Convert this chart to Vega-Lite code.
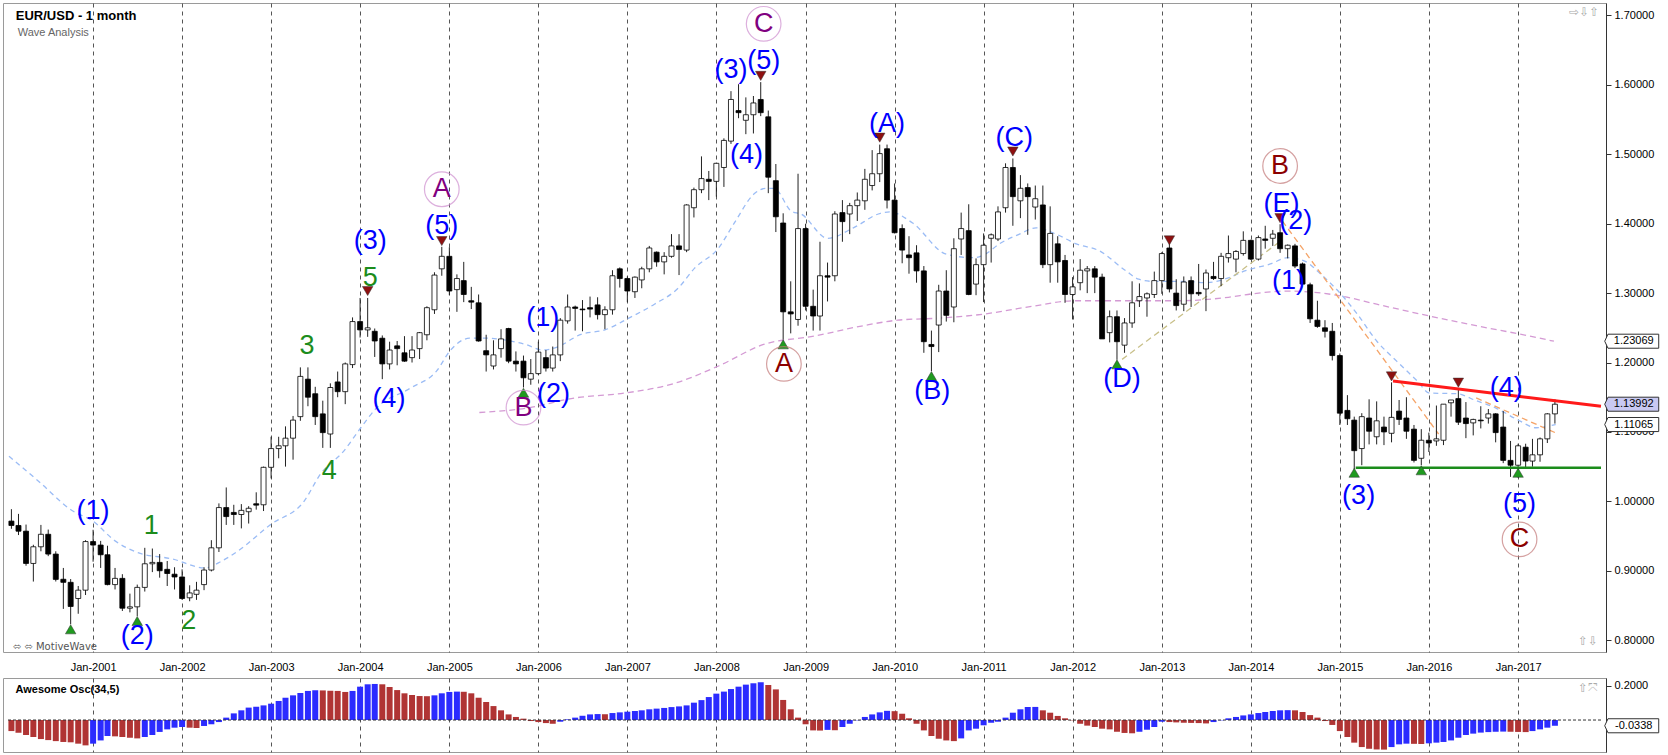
{
"$schema":"https://vega.github.io/schema/vega-lite/v6.json",
"padding":{"left":2,"top":2,"right":0,"bottom":0},
"background":"#ffffff",
"config":{"view":{"stroke":"#9a9a9a"},"font":"Liberation Sans","axis":{"labelFont":"Liberation Sans"}},
"spacing":4,
"resolve":{"scale":{"color":"independent","fill":"independent","stroke":"independent","shape":"independent"}},
"datasets":{
"k":[
{"d":"2000-02-01","o":0.9715,"h":0.9887,"l":0.9604,"c":0.9652,"ao":-0.065,"t":"dn"},
{"d":"2000-03-01","o":0.9652,"h":0.9819,"l":0.9514,"c":0.9570,"ao":-0.075,"t":"dn"},
{"d":"2000-04-01","o":0.9570,"h":0.9665,"l":0.9072,"c":0.9105,"ao":-0.088,"t":"dn"},
{"d":"2000-05-01","o":0.9105,"h":0.9374,"l":0.8844,"c":0.9345,"ao":-0.100,"t":"dn"},
{"d":"2000-06-01","o":0.9345,"h":0.9660,"l":0.9280,"c":0.9525,"ao":-0.112,"t":"dn"},
{"d":"2000-07-01","o":0.9525,"h":0.9593,"l":0.9210,"c":0.9240,"ao":-0.118,"t":"dn"},
{"d":"2000-08-01","o":0.9240,"h":0.9280,"l":0.8845,"c":0.8875,"ao":-0.124,"t":"dn"},
{"d":"2000-09-01","o":0.8877,"h":0.9040,"l":0.8450,"c":0.8833,"ao":-0.129,"t":"dn"},
{"d":"2000-10-01","o":0.8833,"h":0.8880,"l":0.8228,"c":0.8485,"ao":-0.131,"t":"dn"},
{"d":"2000-11-01","o":0.8600,"h":0.8780,"l":0.8380,"c":0.8720,"ao":-0.139,"t":"dn"},
{"d":"2000-12-01","o":0.8720,"h":0.9440,"l":0.8650,"c":0.9420,"ao":-0.149,"t":"dn"},
{"d":"2001-01-01","o":0.9420,"h":0.9590,"l":0.9130,"c":0.9370,"ao":-0.139,"t":"up"},
{"d":"2001-02-01","o":0.9370,"h":0.9430,"l":0.9040,"c":0.9230,"ao":-0.120,"t":"up"},
{"d":"2001-03-01","o":0.9230,"h":0.9360,"l":0.8790,"c":0.8800,"ao":-0.094,"t":"up"},
{"d":"2001-04-01","o":0.8800,"h":0.9040,"l":0.8730,"c":0.8890,"ao":-0.096,"t":"dn"},
{"d":"2001-05-01","o":0.8890,"h":0.8950,"l":0.8420,"c":0.8460,"ao":-0.100,"t":"dn"},
{"d":"2001-06-01","o":0.8460,"h":0.8670,"l":0.8400,"c":0.8480,"ao":-0.104,"t":"dn"},
{"d":"2001-07-01","o":0.8480,"h":0.8800,"l":0.8344,"c":0.8760,"ao":-0.108,"t":"dn"},
{"d":"2001-08-01","o":0.8760,"h":0.9330,"l":0.8700,"c":0.9100,"ao":-0.100,"t":"up"},
{"d":"2001-09-01","o":0.9100,"h":0.9320,"l":0.8980,"c":0.9120,"ao":-0.088,"t":"up"},
{"d":"2001-10-01","o":0.9120,"h":0.9240,"l":0.8900,"c":0.9000,"ao":-0.070,"t":"up"},
{"d":"2001-11-01","o":0.9020,"h":0.9140,"l":0.8780,"c":0.8960,"ao":-0.055,"t":"up"},
{"d":"2001-12-01","o":0.8950,"h":0.9050,"l":0.8730,"c":0.8910,"ao":-0.045,"t":"up"},
{"d":"2002-01-01","o":0.8910,"h":0.9020,"l":0.8580,"c":0.8600,"ao":-0.041,"t":"up"},
{"d":"2002-02-01","o":0.8610,"h":0.8790,"l":0.8560,"c":0.8680,"ao":-0.045,"t":"dn"},
{"d":"2002-03-01","o":0.8660,"h":0.8840,"l":0.8580,"c":0.8720,"ao":-0.047,"t":"dn"},
{"d":"2002-04-01","o":0.8800,"h":0.9050,"l":0.8720,"c":0.9010,"ao":-0.035,"t":"up"},
{"d":"2002-05-01","o":0.9010,"h":0.9440,"l":0.8990,"c":0.9330,"ao":-0.025,"t":"up"},
{"d":"2002-06-01","o":0.9330,"h":0.9970,"l":0.9270,"c":0.9910,"ao":-0.012,"t":"up"},
{"d":"2002-07-01","o":0.9910,"h":1.0200,"l":0.9660,"c":0.9780,"ao":0.014,"t":"up"},
{"d":"2002-08-01","o":0.9840,"h":0.9950,"l":0.9660,"c":0.9810,"ao":0.039,"t":"up"},
{"d":"2002-09-01","o":0.9810,"h":0.9960,"l":0.9610,"c":0.9870,"ao":0.057,"t":"up"},
{"d":"2002-10-01","o":0.9850,"h":0.9930,"l":0.9680,"c":0.9900,"ao":0.073,"t":"up"},
{"d":"2002-11-01","o":0.9965,"h":1.0130,"l":0.9880,"c":0.9945,"ao":0.078,"t":"up"},
{"d":"2002-12-01","o":0.9950,"h":1.0500,"l":0.9860,"c":1.0490,"ao":0.086,"t":"up"},
{"d":"2003-01-01","o":1.0490,"h":1.0930,"l":1.0330,"c":1.0760,"ao":0.096,"t":"up"},
{"d":"2003-02-01","o":1.0760,"h":1.0930,"l":1.0620,"c":1.0800,"ao":0.112,"t":"up"},
{"d":"2003-03-01","o":1.0800,"h":1.1080,"l":1.0500,"c":1.0910,"ao":0.131,"t":"up"},
{"d":"2003-04-01","o":1.0910,"h":1.1230,"l":1.0600,"c":1.1170,"ao":0.145,"t":"up"},
{"d":"2003-05-01","o":1.1220,"h":1.1930,"l":1.1160,"c":1.1800,"ao":0.159,"t":"up"},
{"d":"2003-06-01","o":1.1760,"h":1.1930,"l":1.1370,"c":1.1500,"ao":0.171,"t":"up"},
{"d":"2003-07-01","o":1.1550,"h":1.1650,"l":1.1100,"c":1.1220,"ao":0.175,"t":"up"},
{"d":"2003-08-01","o":1.1260,"h":1.1450,"l":1.0770,"c":1.0990,"ao":0.174,"t":"dn"},
{"d":"2003-09-01","o":1.0970,"h":1.1700,"l":1.0770,"c":1.1640,"ao":0.172,"t":"dn"},
{"d":"2003-10-01","o":1.1720,"h":1.1870,"l":1.1500,"c":1.1580,"ao":0.171,"t":"dn"},
{"d":"2003-11-01","o":1.1580,"h":1.2000,"l":1.1400,"c":1.1980,"ao":0.165,"t":"dn"},
{"d":"2003-12-01","o":1.1970,"h":1.2650,"l":1.1920,"c":1.2590,"ao":0.171,"t":"up"},
{"d":"2004-01-01","o":1.2590,"h":1.2930,"l":1.2360,"c":1.2470,"ao":0.196,"t":"up"},
{"d":"2004-02-01","o":1.2470,"h":1.2930,"l":1.2370,"c":1.2500,"ao":0.210,"t":"up"},
{"d":"2004-03-01","o":1.2450,"h":1.2490,"l":1.2080,"c":1.2310,"ao":0.212,"t":"up"},
{"d":"2004-04-01","o":1.2350,"h":1.2390,"l":1.1760,"c":1.1980,"ao":0.210,"t":"dn"},
{"d":"2004-05-01","o":1.1980,"h":1.2300,"l":1.1900,"c":1.2180,"ao":0.194,"t":"dn"},
{"d":"2004-06-01","o":1.2240,"h":1.2310,"l":1.1960,"c":1.2200,"ao":0.176,"t":"dn"},
{"d":"2004-07-01","o":1.2140,"h":1.2380,"l":1.2010,"c":1.2020,"ao":0.157,"t":"dn"},
{"d":"2004-08-01","o":1.2070,"h":1.2380,"l":1.2000,"c":1.2180,"ao":0.147,"t":"dn"},
{"d":"2004-09-01","o":1.2200,"h":1.2440,"l":1.2050,"c":1.2430,"ao":0.141,"t":"dn"},
{"d":"2004-10-01","o":1.2400,"h":1.2810,"l":1.2320,"c":1.2790,"ao":0.140,"t":"dn"},
{"d":"2004-11-01","o":1.2760,"h":1.3300,"l":1.2700,"c":1.3260,"ao":0.145,"t":"up"},
{"d":"2004-12-01","o":1.3350,"h":1.3667,"l":1.3250,"c":1.3530,"ao":0.157,"t":"up"},
{"d":"2005-01-01","o":1.3530,"h":1.3660,"l":1.2970,"c":1.3030,"ao":0.165,"t":"up"},
{"d":"2005-02-01","o":1.3050,"h":1.3270,"l":1.2730,"c":1.3210,"ao":0.167,"t":"up"},
{"d":"2005-03-01","o":1.3180,"h":1.3450,"l":1.2870,"c":1.2980,"ao":0.166,"t":"dn"},
{"d":"2005-04-01","o":1.2890,"h":1.3090,"l":1.2770,"c":1.2870,"ao":0.157,"t":"dn"},
{"d":"2005-05-01","o":1.2860,"h":1.2980,"l":1.2300,"c":1.2310,"ao":0.131,"t":"dn"},
{"d":"2005-06-01","o":1.2170,"h":1.2400,"l":1.1870,"c":1.2110,"ao":0.106,"t":"dn"},
{"d":"2005-07-01","o":1.1950,"h":1.2320,"l":1.1900,"c":1.2110,"ao":0.082,"t":"dn"},
{"d":"2005-08-01","o":1.2200,"h":1.2480,"l":1.2070,"c":1.2340,"ao":0.057,"t":"dn"},
{"d":"2005-09-01","o":1.2490,"h":1.2500,"l":1.1990,"c":1.2020,"ao":0.033,"t":"dn"},
{"d":"2005-10-01","o":1.2020,"h":1.2160,"l":1.1870,"c":1.1980,"ao":0.018,"t":"dn"},
{"d":"2005-11-01","o":1.2020,"h":1.2100,"l":1.1640,"c":1.1780,"ao":0.008,"t":"dn"},
{"d":"2005-12-01","o":1.1760,"h":1.2050,"l":1.1680,"c":1.1840,"ao":-0.006,"t":"dn"},
{"d":"2006-01-01","o":1.1840,"h":1.2300,"l":1.1820,"c":1.2150,"ao":-0.012,"t":"dn"},
{"d":"2006-02-01","o":1.2070,"h":1.2180,"l":1.1870,"c":1.1920,"ao":-0.018,"t":"dn"},
{"d":"2006-03-01","o":1.1920,"h":1.2230,"l":1.1870,"c":1.2110,"ao":-0.022,"t":"dn"},
{"d":"2006-04-01","o":1.2110,"h":1.2640,"l":1.2020,"c":1.2610,"ao":-0.010,"t":"up"},
{"d":"2006-05-01","o":1.2600,"h":1.2980,"l":1.2560,"c":1.2800,"ao":0.004,"t":"up"},
{"d":"2006-06-01","o":1.2800,"h":1.2820,"l":1.2460,"c":1.2780,"ao":0.014,"t":"up"},
{"d":"2006-07-01","o":1.2770,"h":1.2900,"l":1.2450,"c":1.2760,"ao":0.025,"t":"up"},
{"d":"2006-08-01","o":1.2790,"h":1.2950,"l":1.2650,"c":1.2770,"ao":0.033,"t":"up"},
{"d":"2006-09-01","o":1.2830,"h":1.2940,"l":1.2620,"c":1.2690,"ao":0.035,"t":"up"},
{"d":"2006-10-01","o":1.2690,"h":1.2810,"l":1.2480,"c":1.2760,"ao":0.034,"t":"dn"},
{"d":"2006-11-01","o":1.2760,"h":1.3330,"l":1.2690,"c":1.3250,"ao":0.041,"t":"up"},
{"d":"2006-12-01","o":1.3350,"h":1.3370,"l":1.3080,"c":1.3210,"ao":0.045,"t":"up"},
{"d":"2007-01-01","o":1.3210,"h":1.3240,"l":1.2870,"c":1.3030,"ao":0.049,"t":"up"},
{"d":"2007-02-01","o":1.3020,"h":1.3240,"l":1.2930,"c":1.3230,"ao":0.053,"t":"up"},
{"d":"2007-03-01","o":1.3190,"h":1.3380,"l":1.3070,"c":1.3350,"ao":0.057,"t":"up"},
{"d":"2007-04-01","o":1.3350,"h":1.3680,"l":1.3300,"c":1.3650,"ao":0.063,"t":"up"},
{"d":"2007-05-01","o":1.3590,"h":1.3600,"l":1.3380,"c":1.3450,"ao":0.067,"t":"up"},
{"d":"2007-06-01","o":1.3450,"h":1.3590,"l":1.3270,"c":1.3530,"ao":0.071,"t":"up"},
{"d":"2007-07-01","o":1.3530,"h":1.3850,"l":1.3510,"c":1.3680,"ao":0.076,"t":"up"},
{"d":"2007-08-01","o":1.3680,"h":1.3850,"l":1.3260,"c":1.3630,"ao":0.080,"t":"up"},
{"d":"2007-09-01","o":1.3620,"h":1.4280,"l":1.3590,"c":1.4270,"ao":0.086,"t":"up"},
{"d":"2007-10-01","o":1.4230,"h":1.4520,"l":1.4090,"c":1.4490,"ao":0.102,"t":"up"},
{"d":"2007-11-01","o":1.4490,"h":1.4970,"l":1.4440,"c":1.4650,"ao":0.117,"t":"up"},
{"d":"2007-12-01","o":1.4640,"h":1.4760,"l":1.4340,"c":1.4610,"ao":0.135,"t":"up"},
{"d":"2008-01-01","o":1.4610,"h":1.4880,"l":1.4390,"c":1.4870,"ao":0.155,"t":"up"},
{"d":"2008-02-01","o":1.4810,"h":1.5230,"l":1.4530,"c":1.5200,"ao":0.167,"t":"up"},
{"d":"2008-03-01","o":1.5190,"h":1.5910,"l":1.5150,"c":1.5790,"ao":0.182,"t":"up"},
{"d":"2008-04-01","o":1.5630,"h":1.6010,"l":1.5520,"c":1.5600,"ao":0.196,"t":"up"},
{"d":"2008-05-01","o":1.5490,"h":1.5820,"l":1.5290,"c":1.5570,"ao":0.208,"t":"up"},
{"d":"2008-06-01","o":1.5570,"h":1.5840,"l":1.5300,"c":1.5740,"ao":0.216,"t":"up"},
{"d":"2008-07-01","o":1.5790,"h":1.6040,"l":1.5550,"c":1.5600,"ao":0.222,"t":"up"},
{"d":"2008-08-01","o":1.5540,"h":1.5630,"l":1.4440,"c":1.4670,"ao":0.206,"t":"dn"},
{"d":"2008-09-01","o":1.4620,"h":1.4860,"l":1.3880,"c":1.4100,"ao":0.180,"t":"dn"},
{"d":"2008-10-01","o":1.4010,"h":1.4150,"l":1.2330,"c":1.2730,"ao":0.118,"t":"dn"},
{"d":"2008-11-01","o":1.2730,"h":1.3170,"l":1.2420,"c":1.2700,"ao":0.063,"t":"dn"},
{"d":"2008-12-01","o":1.2620,"h":1.4720,"l":1.2530,"c":1.3930,"ao":0.014,"t":"dn"},
{"d":"2009-01-01","o":1.3930,"h":1.4000,"l":1.2750,"c":1.2810,"ao":-0.025,"t":"dn"},
{"d":"2009-02-01","o":1.2810,"h":1.3050,"l":1.2460,"c":1.2670,"ao":-0.061,"t":"dn"},
{"d":"2009-03-01","o":1.2670,"h":1.3740,"l":1.2460,"c":1.3250,"ao":-0.062,"t":"dn"},
{"d":"2009-04-01","o":1.3250,"h":1.3440,"l":1.2880,"c":1.3230,"ao":-0.058,"t":"up"},
{"d":"2009-05-01","o":1.3250,"h":1.4180,"l":1.3170,"c":1.4140,"ao":-0.060,"t":"dn"},
{"d":"2009-06-01","o":1.4160,"h":1.4340,"l":1.3740,"c":1.4030,"ao":-0.041,"t":"up"},
{"d":"2009-07-01","o":1.4140,"h":1.4300,"l":1.3850,"c":1.4260,"ao":-0.022,"t":"up"},
{"d":"2009-08-01","o":1.4260,"h":1.4450,"l":1.4040,"c":1.4340,"ao":-0.002,"t":"up"},
{"d":"2009-09-01","o":1.4330,"h":1.4790,"l":1.4200,"c":1.4640,"ao":0.018,"t":"up"},
{"d":"2009-10-01","o":1.4550,"h":1.5060,"l":1.4480,"c":1.4720,"ao":0.033,"t":"up"},
{"d":"2009-11-01","o":1.4720,"h":1.5140,"l":1.4600,"c":1.5010,"ao":0.045,"t":"up"},
{"d":"2009-12-01","o":1.5080,"h":1.5140,"l":1.4220,"c":1.4340,"ao":0.054,"t":"up"},
{"d":"2010-01-01","o":1.4340,"h":1.4580,"l":1.3860,"c":1.3870,"ao":0.052,"t":"dn"},
{"d":"2010-02-01","o":1.3930,"h":1.3990,"l":1.3430,"c":1.3620,"ao":0.037,"t":"dn"},
{"d":"2010-03-01","o":1.3550,"h":1.3820,"l":1.3280,"c":1.3510,"ao":0.010,"t":"dn"},
{"d":"2010-04-01","o":1.3580,"h":1.3690,"l":1.3150,"c":1.3320,"ao":-0.022,"t":"dn"},
{"d":"2010-05-01","o":1.3320,"h":1.3390,"l":1.2140,"c":1.2300,"ao":-0.061,"t":"dn"},
{"d":"2010-06-01","o":1.2260,"h":1.2460,"l":1.1876,"c":1.2230,"ao":-0.094,"t":"dn"},
{"d":"2010-07-01","o":1.2540,"h":1.3120,"l":1.2150,"c":1.3030,"ao":-0.110,"t":"dn"},
{"d":"2010-08-01","o":1.3030,"h":1.3330,"l":1.2590,"c":1.2680,"ao":-0.120,"t":"dn"},
{"d":"2010-09-01","o":1.2800,"h":1.3790,"l":1.2580,"c":1.3640,"ao":-0.124,"t":"dn"},
{"d":"2010-10-01","o":1.3780,"h":1.4160,"l":1.3550,"c":1.3930,"ao":-0.108,"t":"up"},
{"d":"2010-11-01","o":1.3900,"h":1.4280,"l":1.2970,"c":1.2980,"ao":-0.061,"t":"up"},
{"d":"2010-12-01","o":1.3130,"h":1.3500,"l":1.2970,"c":1.3410,"ao":-0.051,"t":"up"},
{"d":"2011-01-01","o":1.3410,"h":1.3860,"l":1.2870,"c":1.3690,"ao":-0.031,"t":"up"},
{"d":"2011-02-01","o":1.3790,"h":1.3860,"l":1.3440,"c":1.3840,"ao":-0.016,"t":"up"},
{"d":"2011-03-01","o":1.3780,"h":1.4250,"l":1.3750,"c":1.4170,"ao":-0.010,"t":"up"},
{"d":"2011-04-01","o":1.4230,"h":1.4870,"l":1.4160,"c":1.4810,"ao":0.014,"t":"up"},
{"d":"2011-05-01","o":1.4810,"h":1.4940,"l":1.3970,"c":1.4390,"ao":0.043,"t":"up"},
{"d":"2011-06-01","o":1.4330,"h":1.4700,"l":1.4080,"c":1.4510,"ao":0.063,"t":"up"},
{"d":"2011-07-01","o":1.4520,"h":1.4580,"l":1.3840,"c":1.4390,"ao":0.076,"t":"up"},
{"d":"2011-08-01","o":1.4240,"h":1.4550,"l":1.4060,"c":1.4360,"ao":0.077,"t":"up"},
{"d":"2011-09-01","o":1.4270,"h":1.4550,"l":1.3360,"c":1.3410,"ao":0.057,"t":"dn"},
{"d":"2011-10-01","o":1.3410,"h":1.4250,"l":1.3150,"c":1.3860,"ao":0.043,"t":"dn"},
{"d":"2011-11-01","o":1.3710,"h":1.3820,"l":1.3150,"c":1.3450,"ao":0.024,"t":"dn"},
{"d":"2011-12-01","o":1.3470,"h":1.3550,"l":1.2860,"c":1.2980,"ao":0.010,"t":"dn"},
{"d":"2012-01-01","o":1.2980,"h":1.3230,"l":1.2620,"c":1.3090,"ao":-0.002,"t":"dn"},
{"d":"2012-02-01","o":1.3150,"h":1.3490,"l":1.3040,"c":1.3330,"ao":-0.022,"t":"dn"},
{"d":"2012-03-01","o":1.3320,"h":1.3390,"l":1.3000,"c":1.3350,"ao":-0.033,"t":"dn"},
{"d":"2012-04-01","o":1.3350,"h":1.3390,"l":1.3000,"c":1.3230,"ao":-0.041,"t":"dn"},
{"d":"2012-05-01","o":1.3230,"h":1.3280,"l":1.2360,"c":1.2340,"ao":-0.051,"t":"dn"},
{"d":"2012-06-01","o":1.2430,"h":1.2750,"l":1.2290,"c":1.2660,"ao":-0.055,"t":"dn"},
{"d":"2012-07-01","o":1.2660,"h":1.2750,"l":1.2040,"c":1.2300,"ao":-0.069,"t":"dn"},
{"d":"2012-08-01","o":1.2250,"h":1.2640,"l":1.2140,"c":1.2570,"ao":-0.076,"t":"dn"},
{"d":"2012-09-01","o":1.2570,"h":1.3170,"l":1.2500,"c":1.2860,"ao":-0.078,"t":"dn"},
{"d":"2012-10-01","o":1.2890,"h":1.3140,"l":1.2800,"c":1.2950,"ao":-0.069,"t":"up"},
{"d":"2012-11-01","o":1.2930,"h":1.3010,"l":1.2660,"c":1.2990,"ao":-0.057,"t":"up"},
{"d":"2012-12-01","o":1.2980,"h":1.3310,"l":1.2930,"c":1.3180,"ao":-0.041,"t":"up"},
{"d":"2013-01-01","o":1.3180,"h":1.3590,"l":1.2990,"c":1.3570,"ao":-0.010,"t":"up"},
{"d":"2013-02-01","o":1.3650,"h":1.3710,"l":1.3010,"c":1.3060,"ao":-0.012,"t":"dn"},
{"d":"2013-03-01","o":1.3000,"h":1.3200,"l":1.2750,"c":1.2820,"ao":-0.014,"t":"dn"},
{"d":"2013-04-01","o":1.2840,"h":1.3240,"l":1.2740,"c":1.3160,"ao":-0.016,"t":"dn"},
{"d":"2013-05-01","o":1.3180,"h":1.3240,"l":1.2800,"c":1.2990,"ao":-0.017,"t":"dn"},
{"d":"2013-06-01","o":1.3010,"h":1.3420,"l":1.2960,"c":1.2990,"ao":-0.018,"t":"dn"},
{"d":"2013-07-01","o":1.3060,"h":1.3340,"l":1.2740,"c":1.3290,"ao":-0.020,"t":"dn"},
{"d":"2013-08-01","o":1.3240,"h":1.3450,"l":1.3190,"c":1.3210,"ao":-0.012,"t":"up"},
{"d":"2013-09-01","o":1.3210,"h":1.3580,"l":1.3100,"c":1.3530,"ao":-0.002,"t":"up"},
{"d":"2013-10-01","o":1.3510,"h":1.3830,"l":1.3440,"c":1.3570,"ao":0.010,"t":"up"},
{"d":"2013-11-01","o":1.3490,"h":1.3620,"l":1.3300,"c":1.3600,"ao":0.018,"t":"up"},
{"d":"2013-12-01","o":1.3570,"h":1.3890,"l":1.3540,"c":1.3760,"ao":0.027,"t":"up"},
{"d":"2014-01-01","o":1.3760,"h":1.3770,"l":1.3477,"c":1.3490,"ao":0.033,"t":"up"},
{"d":"2014-02-01","o":1.3490,"h":1.3830,"l":1.3470,"c":1.3800,"ao":0.041,"t":"up"},
{"d":"2014-03-01","o":1.3780,"h":1.3970,"l":1.3640,"c":1.3760,"ao":0.047,"t":"up"},
{"d":"2014-04-01","o":1.3790,"h":1.3910,"l":1.3680,"c":1.3850,"ao":0.053,"t":"up"},
{"d":"2014-05-01","o":1.3870,"h":1.3993,"l":1.3580,"c":1.3640,"ao":0.057,"t":"up"},
{"d":"2014-06-01","o":1.3640,"h":1.3700,"l":1.3500,"c":1.3690,"ao":0.058,"t":"up"},
{"d":"2014-07-01","o":1.3680,"h":1.3710,"l":1.3360,"c":1.3390,"ao":0.057,"t":"dn"},
{"d":"2014-08-01","o":1.3420,"h":1.3440,"l":1.3120,"c":1.3130,"ao":0.047,"t":"dn"},
{"d":"2014-09-01","o":1.3120,"h":1.3150,"l":1.2570,"c":1.2630,"ao":0.029,"t":"dn"},
{"d":"2014-10-01","o":1.2610,"h":1.2890,"l":1.2500,"c":1.2520,"ao":0.014,"t":"dn"},
{"d":"2014-11-01","o":1.2500,"h":1.2610,"l":1.2360,"c":1.2450,"ao":-0.006,"t":"dn"},
{"d":"2014-12-01","o":1.2450,"h":1.2570,"l":1.2030,"c":1.2100,"ao":-0.029,"t":"dn"},
{"d":"2015-01-01","o":1.2100,"h":1.2130,"l":1.1100,"c":1.1270,"ao":-0.065,"t":"dn"},
{"d":"2015-02-01","o":1.1310,"h":1.1530,"l":1.1100,"c":1.1190,"ao":-0.100,"t":"dn"},
{"d":"2015-03-01","o":1.1170,"h":1.1220,"l":1.0460,"c":1.0730,"ao":-0.133,"t":"dn"},
{"d":"2015-04-01","o":1.0760,"h":1.1270,"l":1.0520,"c":1.1220,"ao":-0.159,"t":"dn"},
{"d":"2015-05-01","o":1.1200,"h":1.1470,"l":1.0820,"c":1.1010,"ao":-0.169,"t":"dn"},
{"d":"2015-06-01","o":1.0930,"h":1.1440,"l":1.0820,"c":1.1160,"ao":-0.173,"t":"dn"},
{"d":"2015-07-01","o":1.1070,"h":1.1220,"l":1.0810,"c":1.1000,"ao":-0.174,"t":"dn"},
{"d":"2015-08-01","o":1.0980,"h":1.1714,"l":1.0850,"c":1.1210,"ao":-0.159,"t":"up"},
{"d":"2015-09-01","o":1.1300,"h":1.1460,"l":1.1100,"c":1.1180,"ao":-0.143,"t":"up"},
{"d":"2015-10-01","o":1.1200,"h":1.1500,"l":1.0900,"c":1.1010,"ao":-0.139,"t":"up"},
{"d":"2015-11-01","o":1.1040,"h":1.1100,"l":1.0560,"c":1.0590,"ao":-0.140,"t":"dn"},
{"d":"2015-12-01","o":1.0620,"h":1.1040,"l":1.0520,"c":1.0880,"ao":-0.141,"t":"dn"},
{"d":"2016-01-01","o":1.0880,"h":1.0990,"l":1.0710,"c":1.0840,"ao":-0.137,"t":"up"},
{"d":"2016-02-01","o":1.0870,"h":1.1380,"l":1.0800,"c":1.0900,"ao":-0.133,"t":"up"},
{"d":"2016-03-01","o":1.0880,"h":1.1400,"l":1.0810,"c":1.1400,"ao":-0.129,"t":"up"},
{"d":"2016-04-01","o":1.1420,"h":1.1460,"l":1.1220,"c":1.1460,"ao":-0.120,"t":"up"},
{"d":"2016-05-01","o":1.1480,"h":1.1616,"l":1.1100,"c":1.1140,"ao":-0.104,"t":"up"},
{"d":"2016-06-01","o":1.1200,"h":1.1430,"l":1.0910,"c":1.1120,"ao":-0.088,"t":"up"},
{"d":"2016-07-01","o":1.1130,"h":1.1190,"l":1.0950,"c":1.1180,"ao":-0.080,"t":"up"},
{"d":"2016-08-01","o":1.1170,"h":1.1370,"l":1.1050,"c":1.1160,"ao":-0.074,"t":"up"},
{"d":"2016-09-01","o":1.1200,"h":1.1330,"l":1.1120,"c":1.1260,"ao":-0.071,"t":"up"},
{"d":"2016-10-01","o":1.1260,"h":1.1270,"l":1.0850,"c":1.0990,"ao":-0.069,"t":"up"},
{"d":"2016-11-01","o":1.1070,"h":1.1300,"l":1.0550,"c":1.0590,"ao":-0.068,"t":"up"},
{"d":"2016-12-01","o":1.0590,"h":1.0870,"l":1.0352,"c":1.0520,"ao":-0.069,"t":"dn"},
{"d":"2017-01-01","o":1.0520,"h":1.0830,"l":1.0340,"c":1.0800,"ao":-0.070,"t":"dn"},
{"d":"2017-02-01","o":1.0780,"h":1.0830,"l":1.0490,"c":1.0580,"ao":-0.071,"t":"dn"},
{"d":"2017-03-01","o":1.0580,"h":1.0900,"l":1.0500,"c":1.0670,"ao":-0.065,"t":"up"},
{"d":"2017-04-01","o":1.0670,"h":1.0920,"l":1.0570,"c":1.0900,"ao":-0.055,"t":"up"},
{"d":"2017-05-01","o":1.0900,"h":1.1270,"l":1.0840,"c":1.1260,"ao":-0.045,"t":"up"},
{"d":"2017-06-01","o":1.1260,"h":1.1470,"l":1.1120,"c":1.1399,"ao":-0.0338,"t":"up"}
],
"mb":[
{"d":"2000-01-22","p":1.065},{"d":"2000-05-22","p":1.029},{"d":"2000-10-10","p":0.986},{"d":"2000-12-29","p":0.972},
{"d":"2001-04-01","p":0.943},{"d":"2001-07-04","p":0.926},{"d":"2001-11-22","p":0.917},{"d":"2002-04-04","p":0.904},
{"d":"2002-06-13","p":0.914},{"d":"2002-08-16","p":0.928},{"d":"2003-01-01","p":0.967},{"d":"2003-05-16","p":1.000},
{"d":"2003-07-22","p":1.039},{"d":"2003-10-25","p":1.072},{"d":"2004-01-04","p":1.106},{"d":"2004-03-07","p":1.134},
{"d":"2004-07-25","p":1.163},{"d":"2004-11-10","p":1.188},{"d":"2005-01-04","p":1.217},{"d":"2005-03-25","p":1.235},
{"d":"2005-06-16","p":1.235},{"d":"2005-08-07","p":1.233},{"d":"2005-11-10","p":1.226},{"d":"2006-01-19","p":1.218},
{"d":"2006-03-10","p":1.221},{"d":"2006-06-28","p":1.241},{"d":"2006-10-01","p":1.247},{"d":"2007-01-07","p":1.264},
{"d":"2007-04-22","p":1.284},{"d":"2007-07-28","p":1.307},{"d":"2007-10-04","p":1.336},{"d":"2008-01-10","p":1.365},
{"d":"2008-03-13","p":1.400},{"d":"2008-06-04","p":1.443},{"d":"2008-07-22","p":1.451},{"d":"2008-08-25","p":1.451},
{"d":"2008-11-04","p":1.418},{"d":"2008-12-13","p":1.414},{"d":"2009-04-01","p":1.379},{"d":"2009-07-16","p":1.394},
{"d":"2009-11-04","p":1.415},{"d":"2009-12-13","p":1.417},{"d":"2010-03-16","p":1.401},{"d":"2010-08-01","p":1.356},
{"d":"2010-11-19","p":1.351},{"d":"2011-01-07","p":1.356},{"d":"2011-03-07","p":1.371},{"d":"2011-05-28","p":1.385},
{"d":"2011-08-04","p":1.394},{"d":"2011-10-25","p":1.385},{"d":"2012-01-16","p":1.371},{"d":"2012-04-19","p":1.361},
{"d":"2012-08-07","p":1.332},{"d":"2012-09-28","p":1.320},{"d":"2012-11-22","p":1.317},{"d":"2013-04-07","p":1.317},
{"d":"2013-06-28","p":1.315},{"d":"2013-10-01","p":1.322},{"d":"2013-12-07","p":1.332},{"d":"2014-03-22","p":1.342},
{"d":"2014-06-01","p":1.351},{"d":"2014-08-10","p":1.346},{"d":"2014-10-13","p":1.328},{"d":"2015-01-04","p":1.299},
{"d":"2015-03-13","p":1.270},{"d":"2015-06-01","p":1.231},{"d":"2015-08-22","p":1.202},{"d":"2015-11-13","p":1.174},
{"d":"2016-01-04","p":1.156},{"d":"2016-04-25","p":1.155},{"d":"2016-07-13","p":1.145},{"d":"2016-10-04","p":1.134},
{"d":"2017-01-07","p":1.116},{"d":"2017-03-16","p":1.106},{"d":"2017-06-04","p":1.1107}
],
"mp":[
{"d":"2005-05-04","p":1.128},{"d":"2005-11-10","p":1.134},{"d":"2006-06-01","p":1.149},{"d":"2006-12-22","p":1.156},
{"d":"2007-07-13","p":1.170},{"d":"2008-01-10","p":1.195},{"d":"2008-07-13","p":1.226},{"d":"2009-02-04","p":1.238},
{"d":"2009-08-25","p":1.253},{"d":"2010-01-13","p":1.261},{"d":"2010-07-04","p":1.264},{"d":"2011-01-07","p":1.270},
{"d":"2011-07-19","p":1.281},{"d":"2012-01-04","p":1.289},{"d":"2012-09-01","p":1.289},{"d":"2013-03-10","p":1.289},
{"d":"2013-10-01","p":1.294},{"d":"2014-01-07","p":1.299},{"d":"2014-06-01","p":1.303},{"d":"2015-01-04","p":1.296},
{"d":"2015-06-01","p":1.284},{"d":"2016-01-04","p":1.267},{"d":"2016-07-13","p":1.253},{"d":"2017-01-07","p":1.241},
{"d":"2017-05-28","p":1.2307}
],
"ln":[
{"id":"k","d":"2012-07-22","p":1.2045},{"id":"k","d":"2014-05-03","p":1.375},
{"id":"o1","d":"2014-05-10","p":1.404},{"id":"o1","d":"2016-02-10","p":1.097},
{"id":"o2","d":"2016-07-13","p":1.149},{"id":"o2","d":"2017-06-15","p":1.097},
{"id":"r","d":"2015-08-07","p":1.1733},{"id":"r","d":"2017-12-07","p":1.137},
{"id":"g","d":"2015-03-07","p":1.0484},{"id":"g","d":"2017-12-07","p":1.0484}
],
"tr":[
{"d":"2000-10-01","p":0.8156,"k":"low"},{"d":"2001-07-01","p":0.8275,"k":"low"},{"d":"2005-11-01","p":1.1565,"k":"low"},
{"d":"2008-10-01","p":1.2262,"k":"low"},{"d":"2010-06-01","p":1.1805,"k":"low"},{"d":"2012-07-01","p":1.1974,"k":"low"},
{"d":"2015-03-01","p":1.0412,"k":"low"},{"d":"2015-12-01","p":1.0447,"k":"low"},{"d":"2017-01-01","p":1.0412,"k":"low"},
{"d":"2004-02-01","p":1.303,"k":"high"},{"d":"2004-12-01","p":1.375,"k":"high"},{"d":"2008-07-01","p":1.613,"k":"high"},
{"d":"2009-11-01","p":1.524,"k":"high"},{"d":"2011-05-01","p":1.504,"k":"high"},{"d":"2013-02-01","p":1.376,"k":"high"},
{"d":"2014-05-01","p":1.408,"k":"high"},{"d":"2015-08-01","p":1.180,"k":"high"},{"d":"2016-05-01","p":1.171,"k":"high"}
],
"lb":[
{"t":"(1)","d":"2001-01-01","p":0.986,"g":"wave"},
{"t":"(2)","d":"2001-07-01","p":0.806,"g":"wave"},
{"t":"1","d":"2001-08-28","p":0.9644,"g":"minor"},
{"t":"2","d":"2002-01-28","p":0.8275,"g":"minor"},
{"t":"3","d":"2003-05-28","p":1.2238,"g":"minor"},
{"t":"4","d":"2003-08-28","p":1.0437,"g":"minor"},
{"t":"5","d":"2004-02-12","p":1.322,"g":"minor"},
{"t":"(3)","d":"2004-02-12","p":1.375,"g":"wave"},
{"t":"(4)","d":"2004-04-28","p":1.147,"g":"wave"},
{"t":"(5)","d":"2004-12-01","p":1.396,"g":"wave"},
{"t":"A","d":"2004-12-01","p":1.4496,"g":"cycleP"},
{"t":"(1)","d":"2006-01-19","p":1.2646,"g":"wave"},
{"t":"(2)","d":"2006-03-04","p":1.154,"g":"wave"},
{"t":"B","d":"2005-11-01","p":1.135,"g":"cycleP"},
{"t":"(3)","d":"2008-03-01","p":1.6215,"g":"wave"},
{"t":"(4)","d":"2008-05-04","p":1.499,"g":"wave"},
{"t":"(5)","d":"2008-07-13","p":1.634,"g":"wave"},
{"t":"C","d":"2008-07-13","p":1.688,"g":"cycleP"},
{"t":"A","d":"2008-10-04","p":1.198,"g":"cycleR"},
{"t":"(A)","d":"2009-12-01","p":1.543,"g":"wave"},
{"t":"(B)","d":"2010-06-04","p":1.159,"g":"wave"},
{"t":"(C)","d":"2011-05-07","p":1.524,"g":"wave"},
{"t":"(D)","d":"2012-07-22","p":1.176,"g":"wave"},
{"t":"B","d":"2014-05-01","p":1.4832,"g":"cycleR"},
{"t":"(E)","d":"2014-05-07","p":1.428,"g":"wave"},
{"t":"(2)","d":"2014-07-04","p":1.404,"g":"wave"},
{"t":"(1)","d":"2014-06-04","p":1.3174,"g":"wave"},
{"t":"(3)","d":"2015-03-19","p":1.0077,"g":"wave"},
{"t":"(4)","d":"2016-11-13","p":1.1637,"g":"wave"},
{"t":"(5)","d":"2017-01-07","p":0.9957,"g":"wave"},
{"t":"C","d":"2017-01-07","p":0.9452,"g":"cycleR"}
],
"tg":[
{"d":"2018-04-12","v":1.23069,"s":"1.23069","k":"ma"},
{"d":"2018-04-12","v":1.13992,"s":"1.13992","k":"cur"},
{"d":"2018-04-12","v":1.11065,"s":"1.11065","k":"ma"}
],
"atg":[{"d":"2018-04-12","v":-0.0338,"s":"-0.0338"}],
"nt":[
{"id":"title","d":"2000-02-19","p":1.699,"s":"EUR/USD - 1 month"},
{"id":"sub","d":"2000-02-27","p":1.6748,"s":"Wave Analysis"},
{"id":"brand","d":"2000-02-07","p":0.7905,"s":"⬄ ⬄ MotiveWave"},
{"id":"icon","d":"2017-09-29","p":1.705,"s":"⇨⇩⇧"},
{"id":"icon","d":"2017-10-15","p":0.799,"s":"⇧⇩"}
],
"ant":[
{"id":"title","d":"2000-02-18","p":0.176,"s":"Awesome Osc(34,5)"},
{"id":"icon","d":"2017-10-15","p":0.19,"s":"⇧⤧"}
],
"zero":[{"d":"2000-01-18","v":0},{"d":"2017-12-07","v":0}]
},
"vconcat":[
{
"width":1603,"height":649,
"resolve":{"scale":{"fill":"independent","stroke":"independent","color":"independent","shape":"independent"}},
"encoding":{
"x":{"field":"d","type":"temporal","scale":{"type":"utc","domain":[{"year":2000,"month":1,"date":18,"utc":true},{"year":2017,"month":12,"date":7,"utc":true}]},
"axis":{"orient":"bottom","values":[{"year":2001,"month":1,"date":1,"utc":true},{"year":2002,"month":1,"date":1,"utc":true},{"year":2003,"month":1,"date":1,"utc":true},{"year":2004,"month":1,"date":1,"utc":true},{"year":2005,"month":1,"date":1,"utc":true},{"year":2006,"month":1,"date":1,"utc":true},{"year":2007,"month":1,"date":1,"utc":true},{"year":2008,"month":1,"date":1,"utc":true},{"year":2009,"month":1,"date":1,"utc":true},{"year":2010,"month":1,"date":1,"utc":true},{"year":2011,"month":1,"date":1,"utc":true},{"year":2012,"month":1,"date":1,"utc":true},{"year":2013,"month":1,"date":1,"utc":true},{"year":2014,"month":1,"date":1,"utc":true},{"year":2015,"month":1,"date":1,"utc":true},{"year":2016,"month":1,"date":1,"utc":true},{"year":2017,"month":1,"date":1,"utc":true}],
"format":"%b-%Y","grid":true,"gridDash":[4,4],"gridColor":"#555555","gridWidth":1,"ticks":false,"domain":false,"labelFontSize":11,"labelColor":"#000000","labelPadding":9,"title":null}},
"y":{"type":"quantitative","scale":{"domain":[0.7829,1.718],"nice":false,"zero":false},
"axis":{"orient":"right","values":[0.8,0.9,1.0,1.1,1.2,1.3,1.4,1.5,1.6,1.7],"format":".5f","grid":false,"tickSize":5,"tickColor":"#333333","domainColor":"#333333","labelFontSize":11,"labelColor":"#000000","labelPadding":3,"title":null}}
},
"layer":[
{"data":{"name":"mp"},"mark":{"type":"line","color":"#d49ad4","strokeWidth":1.3,"strokeDash":[6,4],"interpolate":"monotone"},"encoding":{"y":{"field":"p"}}},
{"data":{"name":"mb"},"mark":{"type":"line","color":"#9bbcf5","strokeWidth":1.3,"strokeDash":[5,4],"interpolate":"monotone"},"encoding":{"y":{"field":"p"}}},
{"data":{"name":"ln"},"transform":[{"filter":"datum.id === 'k'"}],"mark":{"type":"line","color":"#c9c08a","strokeWidth":1.3,"strokeDash":[6,4]},"encoding":{"y":{"field":"p"}}},
{"data":{"name":"ln"},"transform":[{"filter":"datum.id === 'o1' || datum.id === 'o2'"}],"mark":{"type":"line","color":"#f5a468","strokeWidth":1.3,"strokeDash":[6,4]},"encoding":{"y":{"field":"p"},"detail":{"field":"id"}}},
{"data":{"name":"k"},"mark":{"type":"rule","color":"#222222","strokeWidth":1},"encoding":{"y":{"field":"l"},"y2":{"field":"h"}}},
{"data":{"name":"k"},"mark":{"type":"bar","size":5,"stroke":"#000000","strokeWidth":0.8},"encoding":{"y":{"field":"o"},"y2":{"field":"c"},"fill":{"condition":{"test":"datum.c < datum.o","value":"#000000"},"value":"#ffffff"}}},
{"data":{"name":"ln"},"transform":[{"filter":"datum.id === 'r'"}],"mark":{"type":"line","color":"#ff1a1a","strokeWidth":3}, "encoding":{"y":{"field":"p"}}},
{"data":{"name":"ln"},"transform":[{"filter":"datum.id === 'g'"}],"mark":{"type":"line","color":"#1b8c1b","strokeWidth":2.5}, "encoding":{"y":{"field":"p"}}},
{"data":{"name":"tr"},"mark":{"type":"point","filled":true,"size":110,"stroke":"#333333","strokeWidth":0.5,"opacity":1},"encoding":{"y":{"field":"p"},"shape":{"field":"k","type":"nominal","scale":{"domain":["high","low"],"range":["triangle-down","triangle-up"]},"legend":null},"fill":{"field":"k","type":"nominal","scale":{"domain":["high","low"],"range":["#8e1010","#1f9a1f"]},"legend":null}}},
{"data":{"name":"lb"},"transform":[{"filter":"datum.g === 'cycleP' || datum.g === 'cycleR'"}],"mark":{"type":"point","shape":"circle","filled":false,"size":1200,"strokeWidth":1.2},"encoding":{"y":{"field":"p"},"stroke":{"field":"g","type":"nominal","scale":{"domain":["cycleP","cycleR"],"range":["#cf8fd0","#c47a7a"]},"legend":null}}},
{"data":{"name":"lb"},"mark":{"type":"text","fontSize":27,"font":"Liberation Sans","baseline":"middle","align":"center"},"encoding":{"y":{"field":"p"},"text":{"field":"t"},"color":{"field":"g","type":"nominal","scale":{"domain":["wave","minor","cycleP","cycleR"],"range":["#0000ff","#1c8c1c","#800080","#8b0000"]},"legend":null}}},
{"data":{"name":"tg"},"mark":{"type":"point","shape":"M-1,0L-0.88,-0.26L1,-0.26L1,0.26L-0.88,0.26Z","size":2916,"filled":true,"stroke":"#333333","strokeWidth":1,"opacity":1},"encoding":{"y":{"field":"v"},"fill":{"field":"k","type":"nominal","scale":{"domain":["ma","cur"],"range":["#ffffff","#c9c9f2"]},"legend":null}}},
{"data":{"name":"tg"},"mark":{"type":"text","fontSize":11,"baseline":"middle","align":"center","color":"#000000","dx":2},"encoding":{"y":{"field":"v"},"text":{"field":"s"}}},
{"data":{"name":"nt"},"transform":[{"filter":"datum.id === 'title'"}],"mark":{"type":"text","fontSize":13,"fontWeight":"bold","align":"left","baseline":"middle","color":"#000000"},"encoding":{"y":{"field":"p"},"text":{"field":"s"}}},
{"data":{"name":"nt"},"transform":[{"filter":"datum.id === 'sub'"}],"mark":{"type":"text","fontSize":11,"align":"left","baseline":"middle","color":"#666666"},"encoding":{"y":{"field":"p"},"text":{"field":"s"}}},
{"data":{"name":"nt"},"transform":[{"filter":"datum.id === 'brand'"}],"mark":{"type":"text","fontSize":10,"font":"DejaVu Sans","align":"left","baseline":"middle","color":"#555555"},"encoding":{"y":{"field":"p"},"text":{"field":"s"}}},
{"data":{"name":"nt"},"transform":[{"filter":"datum.id === 'icon'"}],"mark":{"type":"text","fontSize":12,"font":"DejaVu Sans","align":"center","baseline":"middle","color":"#aaaaaa"},"encoding":{"y":{"field":"p"},"text":{"field":"s"}}}
]
},
{
"width":1603,"height":74,
"encoding":{
"x":{"field":"d","type":"temporal","scale":{"type":"utc","domain":[{"year":2000,"month":1,"date":18,"utc":true},{"year":2017,"month":12,"date":7,"utc":true}]},
"axis":{"orient":"bottom","values":[{"year":2001,"month":1,"date":1,"utc":true},{"year":2002,"month":1,"date":1,"utc":true},{"year":2003,"month":1,"date":1,"utc":true},{"year":2004,"month":1,"date":1,"utc":true},{"year":2005,"month":1,"date":1,"utc":true},{"year":2006,"month":1,"date":1,"utc":true},{"year":2007,"month":1,"date":1,"utc":true},{"year":2008,"month":1,"date":1,"utc":true},{"year":2009,"month":1,"date":1,"utc":true},{"year":2010,"month":1,"date":1,"utc":true},{"year":2011,"month":1,"date":1,"utc":true},{"year":2012,"month":1,"date":1,"utc":true},{"year":2013,"month":1,"date":1,"utc":true},{"year":2014,"month":1,"date":1,"utc":true},{"year":2015,"month":1,"date":1,"utc":true},{"year":2016,"month":1,"date":1,"utc":true},{"year":2017,"month":1,"date":1,"utc":true}],
"grid":true,"gridDash":[4,4],"gridColor":"#555555","labels":false,"ticks":false,"domain":false,"title":null}},
"y":{"type":"quantitative","scale":{"domain":[-0.188,0.247],"nice":false,"zero":false},
"axis":{"orient":"right","values":[0,0.2],"format":".4f","labelExpr":"datum.value > 0.1 ? datum.label : ''","grid":false,"tickSize":5,"tickColor":"#333333","domainColor":"#333333","labelFontSize":11,"labelColor":"#000000","labelPadding":3,"title":null}}
},
"layer":[
{"data":{"name":"k"},"mark":{"type":"bar","size":6},"encoding":{"y":{"field":"ao"},"y2":{"datum":0},"color":{"field":"t","type":"nominal","scale":{"domain":["up","dn"],"range":["#2b2bff","#b03434"]},"legend":null}}},
{"data":{"name":"zero"},"mark":{"type":"line","color":"#333333","strokeDash":[3,2],"strokeWidth":1},"encoding":{"y":{"field":"v"}}},
{"data":{"name":"ant"},"transform":[{"filter":"datum.id === 'title'"}],"mark":{"type":"text","fontSize":11,"fontWeight":"bold","align":"left","baseline":"middle","color":"#000000"},"encoding":{"y":{"field":"p"},"text":{"field":"s"}}},
{"data":{"name":"ant"},"transform":[{"filter":"datum.id === 'icon'"}],"mark":{"type":"text","fontSize":12,"font":"DejaVu Sans","align":"center","baseline":"middle","color":"#aaaaaa"},"encoding":{"y":{"field":"p"},"text":{"field":"s"}}},
{"data":{"name":"atg"},"mark":{"type":"point","shape":"M-1,0L-0.88,-0.26L1,-0.26L1,0.26L-0.88,0.26Z","size":2916,"filled":true,"fill":"#ffffff","stroke":"#333333","strokeWidth":1,"opacity":1},"encoding":{"y":{"field":"v"}}},
{"data":{"name":"atg"},"mark":{"type":"text","fontSize":11,"baseline":"middle","align":"center","color":"#000000","dx":2},"encoding":{"y":{"field":"v"},"text":{"field":"s"}}}
]
}
]
}
